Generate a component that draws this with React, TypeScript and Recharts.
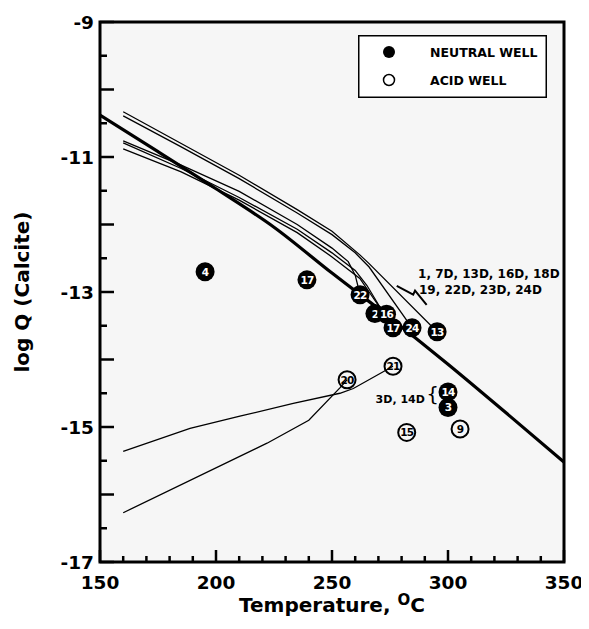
import React from "react";
import { ComposedChart, Line, Scatter, XAxis, YAxis, ReferenceArea } from "recharts";

// ---- axis ticks ----
const xTicks = [150, 160, 170, 180, 190, 200, 210, 220, 230, 240, 250, 260, 270, 280, 290, 300, 310, 320, 330, 340, 350];
const yTicks = [-17, -16.5, -16, -15.5, -15, -14.5, -14, -13.5, -13, -12.5, -12, -11.5, -11, -10.5, -10, -9.5, -9];

// ---- calcite equilibrium curve (thick) ----
const calciteCurve = [
  { x: 150, y: -10.38 }, { x: 175, y: -10.92 }, { x: 200, y: -11.47 }, { x: 225, y: -12.04 },
  { x: 250, y: -12.72 }, { x: 275, y: -13.38 }, { x: 300, y: -14.07 }, { x: 325, y: -14.79 }, { x: 350, y: -15.52 },
];

// ---- boiling paths of neutral wells (thin) ----
const path13 = [
  { x: 160, y: -10.33 }, { x: 185, y: -10.8 }, { x: 210, y: -11.27 }, { x: 235, y: -11.78 },
  { x: 250, y: -12.1 }, { x: 262, y: -12.45 }, { x: 266, y: -12.58 }, { x: 295.3, y: -13.59 },
];
const path24 = [
  { x: 160, y: -10.39 }, { x: 185, y: -10.85 }, { x: 210, y: -11.32 }, { x: 235, y: -11.83 },
  { x: 250, y: -12.15 }, { x: 260, y: -12.42 }, { x: 266, y: -12.63 }, { x: 284.5, y: -13.53 },
];
const path22 = [
  { x: 160, y: -10.76 }, { x: 185, y: -11.12 }, { x: 210, y: -11.51 }, { x: 235, y: -12.0 },
  { x: 250, y: -12.35 }, { x: 257, y: -12.55 }, { x: 260, y: -12.75 }, { x: 262.1, y: -13.04 },
];
const path16 = [
  { x: 160, y: -10.79 }, { x: 185, y: -11.17 }, { x: 210, y: -11.6 }, { x: 235, y: -12.07 },
  { x: 250, y: -12.42 }, { x: 260, y: -12.68 }, { x: 265, y: -12.9 }, { x: 272, y: -13.3 },
];
const path17 = [
  { x: 160, y: -10.88 }, { x: 185, y: -11.22 }, { x: 210, y: -11.64 }, { x: 235, y: -12.12 },
  { x: 250, y: -12.48 }, { x: 262, y: -12.8 }, { x: 268, y: -13.1 }, { x: 276, y: -13.5 },
];

// ---- boiling paths of acid wells (thin) ----
const path21 = [
  { x: 160, y: -15.36 }, { x: 188.8, y: -15.02 }, { x: 210.3, y: -14.84 }, { x: 233.3, y: -14.65 },
  { x: 253.4, y: -14.5 }, { x: 259.2, y: -14.43 }, { x: 276.3, y: -14.1 },
];
const path20 = [
  { x: 160, y: -16.27 }, { x: 210, y: -15.44 }, { x: 222, y: -15.24 }, { x: 240, y: -14.9 },
  { x: 253.4, y: -14.42 }, { x: 256.5, y: -14.3 },
];

// ---- well points ----
const neutralWells = [
  { x: 195.3, y: -12.7, id: "4" },
  { x: 239.2, y: -12.82, id: "17" },
  { x: 262.1, y: -13.04, id: "22" },
  { x: 268.5, y: -13.32, id: "2" },
  { x: 273.5, y: -13.33, id: "16" },
  { x: 276.3, y: -13.53, id: "17" },
  { x: 284.5, y: -13.53, id: "24" },
  { x: 295.3, y: -13.59, id: "13" },
  { x: 300, y: -14.48, id: "14" },
  { x: 300, y: -14.71, id: "3" },
];
const acidWells = [
  { x: 256.5, y: -14.3, id: "20" },
  { x: 276.3, y: -14.1, id: "21" },
  { x: 282.2, y: -15.08, id: "15" },
  { x: 305.2, y: -15.03, id: "9" },
];

// ---- annotations ----
const annotations = [
  { x: 287.1, y: -12.79, text: "1, 7D, 13D, 16D, 18D" },
  { x: 287.5, y: -13.03, text: "19, 22D, 23D, 24D" },
];
const annotation3D = [{ x: 268.8, y: -14.64, text: "3D, 14D" }];
const braceGlyph = [{ x: 290.6, y: -14.62, text: "{" }];
const braceMark = [
  { x: 277.9, y: -12.91 }, { x: 285, y: -13.04 }, { x: 285.8, y: -12.98 }, { x: 290.8, y: -13.19 },
];

const TITLE_FONT = "'DejaVu Sans', Verdana, sans-serif";
const TICK_STYLE = { fontFamily: TITLE_FONT, fontWeight: 700, fontSize: 18.5 };

function XTick(props: any) {
  const { x, y, payload } = props;
  const v = payload.value;
  const major = v % 50 === 0;
  return (
    <g>
      <line x1={x} x2={x} y1={y} y2={y - (major ? 12 : 6)} stroke="#000" strokeWidth={2.5} />
      {major && (
        <text x={x} y={y + 27} textAnchor="middle" style={TICK_STYLE} fill="#000">
          {v}
        </text>
      )}
    </g>
  );
}

function YTick(props: any) {
  const { x, y, payload } = props;
  const v = payload.value;
  const integer = Number.isInteger(v);
  const labeled = integer && Math.abs(v) % 2 === 1;
  return (
    <g>
      <line x1={x} x2={x + (integer ? 14 : 7)} y1={y} y2={y} stroke="#000" strokeWidth={2.5} />
      {labeled && (
        <text x={x - 6} y={y + 7} textAnchor="end" style={TICK_STYLE} fill="#000">
          {v}
        </text>
      )}
    </g>
  );
}

function XTitle(props: any) {
  const vb = props.viewBox;
  const cx = vb.x + vb.width / 2;
  return (
    <text x={cx} y={vb.y + 50} textAnchor="middle" style={{ fontFamily: TITLE_FONT, fontWeight: 700, fontSize: 20 }} fill="#000">
      Temperature,{" "}
      <tspan style={{ fontSize: 15 }} dy={-7}>O</tspan>
      <tspan dy={7}>C</tspan>
    </text>
  );
}

function YTitle(props: any) {
  const vb = props.viewBox;
  const cx = 14;
  const cy = vb.y + vb.height / 2;
  return (
    <text
      x={cx}
      y={cy}
      textAnchor="middle"
      dominantBaseline="central"
      transform={`rotate(-90, ${cx}, ${cy})`}
      style={{ fontFamily: TITLE_FONT, fontWeight: 700, fontSize: 20 }}
      fill="#000"
    >
      log Q (Calcite)
    </text>
  );
}

const DOT_FONT = { fontFamily: TITLE_FONT, fontWeight: 700, fontSize: 10.5, letterSpacing: -0.8 };

function NeutralDot(props: any) {
  const { cx, cy, payload } = props;
  return (
    <g>
      <circle cx={cx} cy={cy} r={9.5} fill="#000" />
      <text x={cx} y={cy + 4} textAnchor="middle" style={DOT_FONT} fill="#fff">
        {payload.id}
      </text>
    </g>
  );
}

function AcidDot(props: any) {
  const { cx, cy, payload } = props;
  return (
    <g>
      <circle cx={cx} cy={cy} r={8.5} fill="none" stroke="#000" strokeWidth={2} />
      <text x={cx} y={cy + 4} textAnchor="middle" style={DOT_FONT} fill="#000">
        {payload.id}
      </text>
    </g>
  );
}

function NoteText(size: number, weight: number) {
  return (props: any) => {
    const { cx, cy, payload } = props;
    return (
      <text x={cx} y={cy} textAnchor="start" style={{ fontFamily: TITLE_FONT, fontWeight: weight, fontSize: size }} fill="#000">
        {payload.text}
      </text>
    );
  };
}

const thin = { stroke: "#000", strokeWidth: 1.3, dot: false, isAnimationActive: false, type: "linear" as const };

export default function App() {
  return (
    <div style={{ position: "relative", width: 581, height: 621, background: "#fff" }}>
      <ComposedChart width={581} height={621} margin={{ top: 14, right: 25, bottom: 0, left: 0 }}>
        <XAxis
          dataKey="x"
          type="number"
          domain={[150, 350]}
          ticks={xTicks}
          interval={0}
          tickSize={0}
          tickMargin={0}
          tickLine={false}
          axisLine={false}
          height={67}
          tick={XTick}
          label={XTitle}
          allowDataOverflow
        />
        <YAxis
          dataKey="y"
          type="number"
          domain={[-17, -9]}
          ticks={yTicks}
          interval={0}
          tickSize={0}
          tickMargin={0}
          tickLine={false}
          axisLine={false}
          width={92}
          tick={YTick}
          label={YTitle}
          allowDataOverflow
        />
        <ReferenceArea x1={150} x2={350} y1={-17} y2={-9} fill="#f6f6f6" fillOpacity={1} stroke="#000" strokeWidth={3} />
        <Line data={calciteCurve} dataKey="y" type="monotone" stroke="#000" strokeWidth={3.2} dot={false} isAnimationActive={false} />
        <Line data={path13} dataKey="y" {...thin} />
        <Line data={path24} dataKey="y" {...thin} />
        <Line data={path22} dataKey="y" {...thin} />
        <Line data={path16} dataKey="y" {...thin} />
        <Line data={path17} dataKey="y" {...thin} />
        <Line data={path21} dataKey="y" {...thin} />
        <Line data={path20} dataKey="y" {...thin} />
        <Line data={braceMark} dataKey="y" type="linear" stroke="#000" strokeWidth={2} dot={false} isAnimationActive={false} />
        <Scatter data={acidWells} dataKey="y" shape={AcidDot} isAnimationActive={false} />
        <Scatter data={neutralWells} dataKey="y" shape={NeutralDot} isAnimationActive={false} />
        <Scatter data={annotations} dataKey="y" shape={NoteText(12, 700)} isAnimationActive={false} />
        <Scatter data={annotation3D} dataKey="y" shape={NoteText(11, 700)} isAnimationActive={false} />
        <Scatter data={braceGlyph} dataKey="y" shape={NoteText(20, 400)} isAnimationActive={false} />
      </ComposedChart>
      <div style={{ position: "absolute", left: 350, top: 27, width: 189, height: 63 }}>
        <svg width={189} height={63}>
          <rect x={0.75} y={0.75} width={187.5} height={61.5} fill="#fff" stroke="#000" strokeWidth={1.5} />
          <circle cx={31} cy={17} r={6} fill="#000" />
          <text x={72} y={22} style={{ fontFamily: TITLE_FONT, fontWeight: 700, fontSize: 12.5 }} fill="#000">NEUTRAL WELL</text>
          <circle cx={31} cy={45} r={5.5} fill="none" stroke="#000" strokeWidth={1.5} />
          <text x={72} y={50} style={{ fontFamily: TITLE_FONT, fontWeight: 700, fontSize: 12.5 }} fill="#000">ACID WELL</text>
        </svg>
      </div>
    </div>
  );
}
